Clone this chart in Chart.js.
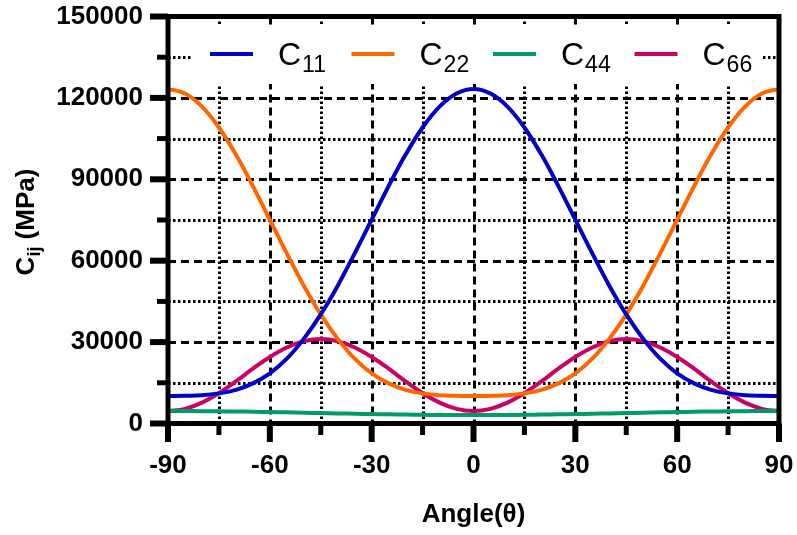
<!DOCTYPE html>
<html>
<head>
<meta charset="utf-8">
<script src="https://cdn.jsdelivr.net/npm/chart.js@4.4.0/dist/chart.umd.min.js"></script>
<style>
  html, body { margin: 0; padding: 0; background: #fff; }
  canvas { display: block; }
</style>
</head>
<body>
<canvas id="cijChart" width="797" height="535"></canvas>
<script>
const FONT = '"Liberation Sans", Arial, sans-serif';

// Angle in degrees, stiffness values in MPa
const angles = [-90, -85, -80, -75, -70, -65, -60, -55, -50, -45, -40, -35, -30, -25, -20, -15, -10, -5, 0,
                5, 10, 15, 20, 25, 30, 35, 40, 45, 50, 55, 60, 65, 70, 75, 80, 85, 90];
const c11 = [10100, 10200, 10400, 11100, 12400, 14800, 18500, 23900, 31200, 40200, 50800, 62700, 75100, 87500, 99100, 109100, 116800, 121600, 123300,
             121600, 116800, 109100, 99100, 87500, 75100, 62700, 50800, 40200, 31200, 23900, 18500, 14800, 12400, 11100, 10400, 10200, 10100];
const c22 = [123300, 121600, 116800, 109100, 99100, 87500, 75100, 62700, 50800, 40200, 31200, 23900, 18500, 14800, 12400, 11100, 10400, 10200, 10100,
             10200, 10400, 11100, 12400, 14800, 18500, 23900, 31200, 40200, 50800, 62700, 75100, 87500, 99100, 109100, 116800, 121600, 123300];
const c44 = [4600, 4590, 4560, 4500, 4430, 4330, 4230, 4110, 3980, 3850, 3720, 3590, 3480, 3370, 3280, 3200, 3150, 3110, 3100,
             3110, 3150, 3200, 3280, 3370, 3480, 3590, 3720, 3850, 3980, 4110, 4230, 4330, 4430, 4500, 4560, 4590, 4600];
const c66 = [4600, 5400, 7700, 11200, 15500, 20200, 24500, 28000, 30300, 31100, 30300, 28000, 24500, 20200, 15500, 11200, 7700, 5400, 4600,
             5400, 7700, 11200, 15500, 20200, 24500, 28000, 30300, 31100, 30300, 28000, 24500, 20200, 15500, 11200, 7700, 5400, 4600];

const seriesNames = ['C11', 'C22', 'C44', 'C66'];
const seriesColors = ['rgb(0,0,200)', 'rgb(255,102,0)', 'rgb(0,155,105)', 'rgb(204,0,102)'];

const xMin = -90, xMax = 90, xStep = 15;
const yMin = 0, yMax = 150000, yStep = 15000;

function points(values) {
  return angles.map((a, i) => ({ x: a, y: values[i] }));
}

function line(ctx, x1, y1, x2, y2) {
  ctx.beginPath();
  ctx.moveTo(x1, y1);
  ctx.lineTo(x2, y2);
  ctx.stroke();
}

// dashed grid on major ticks, dotted on minor ones, plus the white legend block
const gridAndLegend = {
  id: 'gridAndLegend',
  beforeDatasetsDraw(chart) {
    const { ctx, chartArea: a, scales: { x, y } } = chart;
    ctx.save();
    ctx.strokeStyle = '#000';
    ctx.lineWidth = 3;
    x.ticks.forEach(t => {
      if (t.value <= xMin || t.value >= xMax) return;
      const px = Math.round(x.getPixelForValue(t.value)) + 0.5;
      ctx.setLineDash(t.value % 30 === 0 ? [8, 5] : [2.5, 2.5]);
      line(ctx, px, a.top, px, a.bottom);
    });
    y.ticks.forEach(t => {
      if (t.value <= yMin || t.value >= yMax) return;
      const py = Math.round(y.getPixelForValue(t.value)) + 0.5;
      ctx.setLineDash(t.value % 30000 === 0 ? [8, 5] : [2.5, 2.5]);
      line(ctx, a.left, py, a.right, py);
    });
    ctx.setLineDash([]);

    ctx.fillStyle = '#fff';
    ctx.fillRect(193, 26, 570, 58);
    chart.data.datasets.forEach((ds, i) => {
      const x0 = 210 + 141.5 * i;
      ctx.strokeStyle = ds.borderColor;
      ctx.lineWidth = 4;
      line(ctx, x0, 54, x0 + 43, 54);
      ctx.fillStyle = '#000';
      ctx.textBaseline = 'alphabetic';
      ctx.textAlign = 'left';
      ctx.font = '32px ' + FONT;
      ctx.fillText('C', x0 + 68, 65);
      const w = ctx.measureText('C').width;
      ctx.font = '23px ' + FONT;
      ctx.fillText(ds.label.slice(1), x0 + 69 + w, 72);
    });
    ctx.restore();
  },
  afterDatasetsDraw(chart) {
    const { ctx, chartArea: a, scales: { x, y } } = chart;
    ctx.save();
    ctx.strokeStyle = '#000';
    ctx.lineJoin = 'miter';
    ctx.lineWidth = 5;
    ctx.strokeRect(a.left, a.top, a.right - a.left, a.bottom - a.top);

    x.ticks.forEach(t => {
      const px = x.getPixelForValue(t.value);
      const major = t.value % 30 === 0;
      ctx.lineWidth = major ? 6 : 5;
      line(ctx, px, a.bottom, px, a.bottom + (major ? 18.5 : 11.5));
    });
    y.ticks.forEach(t => {
      const py = y.getPixelForValue(t.value);
      const major = t.value % 30000 === 0;
      ctx.lineWidth = major ? 6 : 5;
      line(ctx, a.left, py, a.left - (major ? 18 : 11), py);
    });

    // y axis title with subscript
    ctx.translate(34, 222);
    ctx.rotate(-Math.PI / 2);
    ctx.fillStyle = '#000';
    ctx.textBaseline = 'alphabetic';
    ctx.textAlign = 'left';
    const big = 'bold 26px ' + FONT, small = 'bold 18px ' + FONT;
    ctx.font = big;
    const wC = ctx.measureText('C').width;
    const wRest = ctx.measureText(' (MPa)').width;
    ctx.font = small;
    const wSub = ctx.measureText('ij').width;
    let cx = -(wC + wSub + wRest) / 2;
    ctx.font = big;
    ctx.fillText('C', cx, 0);
    cx += wC;
    ctx.font = small;
    ctx.fillText('ij', cx, 6);
    cx += wSub;
    ctx.font = big;
    ctx.fillText(' (MPa)', cx, 0);
    ctx.restore();
  }
};

new Chart(document.getElementById('cijChart'), {
  type: 'line',
  data: {
    datasets: seriesNames.map((name, i) => ({
      label: name,
      data: points([c11, c22, c44, c66][i]),
      borderColor: seriesColors[i],
      backgroundColor: seriesColors[i],
      borderWidth: 4,
      pointRadius: 0,
      fill: false,
      tension: 0.4
    }))
  },
  options: {
    responsive: false,
    animation: false,
    layout: { padding: { top: 16.5, right: 18, bottom: 0, left: 0 } },
    plugins: { legend: { display: false }, tooltip: { enabled: false } },
    scales: {
      x: {
        type: 'linear',
        min: xMin,
        max: xMax,
        grid: { display: false, drawTicks: false },
        border: { display: false },
        afterFit(scale) {
          scale.height = 111.5;
          scale.paddingLeft = 0;
          scale.paddingRight = 0;
        },
        ticks: {
          stepSize: xStep,
          autoSkip: false,
          maxRotation: 0,
          padding: 27,
          color: '#000',
          font: { family: FONT, size: 26, weight: 'bold' },
          callback: v => (v % 30 === 0 ? String(v) : '')
        },
        title: {
          display: true,
          text: 'Angle(θ)',
          color: '#000',
          font: { family: FONT, size: 26, weight: 'bold' },
          padding: { top: 0, bottom: 5 }
        }
      },
      y: {
        min: yMin,
        max: yMax,
        grid: { display: false, drawTicks: false },
        border: { display: false },
        afterFit(scale) {
          scale.width = 168;
          scale.paddingTop = 0;
          scale.paddingBottom = 0;
        },
        ticks: {
          stepSize: yStep,
          autoSkip: false,
          padding: 25,
          color: '#000',
          font: { family: FONT, size: 26, weight: 'bold' },
          callback: v => (v % 30000 === 0 ? String(v) : '')
        }
      }
    }
  },
  plugins: [gridAndLegend]
});
</script>
</body>
</html>
